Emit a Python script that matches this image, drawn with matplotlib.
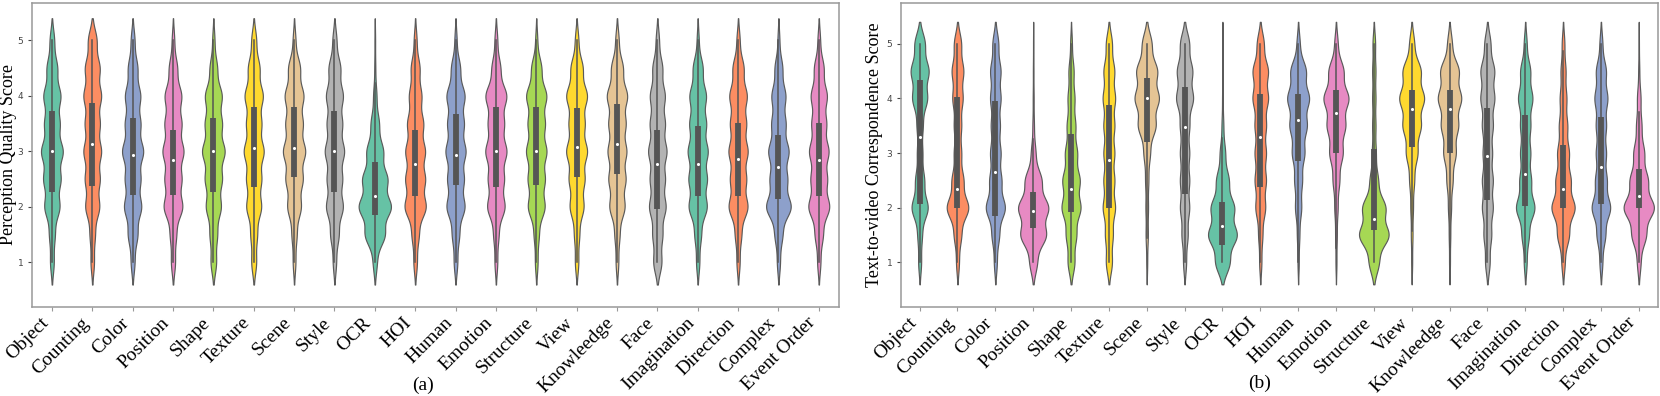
import numpy as np
import matplotlib
matplotlib.use("Agg")
from matplotlib import pyplot as plt

# categories shared by both panels
categories = ["Object", "Counting", "Color", "Position", "Shape", "Texture", "Scene",
              "Style", "OCR", "HOI", "Human", "Emotion", "Structure", "View",
              "Knowleedge", "Face", "Imagination", "Direction", "Complex", "Event Order"]

# score levels and relative share of ratings at each level
levels = [1.0, 1.5, 2.0, 2.5, 3.0, 3.5, 4.0, 4.5, 5.0]

perc_counts = [
    [10, 15, 40, 45, 57, 40, 45, 28, 12],
    [10, 15, 40, 42, 50, 42, 50, 42, 25],
    [10, 25, 45, 40, 55, 40, 40, 25, 10],
    [10, 15, 45, 40, 50, 40, 40, 20, 6],
    [15, 20, 40, 45, 60, 45, 45, 20, 6],
    [15, 20, 45, 45, 60, 45, 55, 35, 15],
    [8, 15, 40, 50, 65, 50, 55, 35, 8],
    [10, 25, 50, 45, 57, 45, 50, 35, 12],
    [12, 60, 97, 75, 50, 25, 10, 3, 2],
    [10, 20, 60, 55, 55, 45, 35, 25, 8],
    [10, 20, 50, 45, 55, 45, 50, 25, 6],
    [8, 15, 50, 45, 60, 45, 60, 25, 8],
    [8, 15, 50, 50, 60, 50, 60, 30, 6],
    [10, 15, 40, 45, 60, 45, 60, 35, 10],
    [8, 15, 45, 50, 55, 50, 60, 35, 10],
    [25, 30, 50, 45, 55, 45, 45, 30, 10],
    [10, 20, 55, 55, 60, 50, 50, 30, 6],
    [10, 20, 60, 50, 60, 50, 55, 35, 10],
    [10, 25, 80, 55, 65, 45, 45, 25, 6],
    [10, 25, 65, 50, 60, 45, 50, 30, 8],
]
perc_q1 = [2.27, 2.37, 2.22, 2.22, 2.27, 2.35, 2.53, 2.27, 1.85, 2.2,
           2.4, 2.35, 2.4, 2.53, 2.59, 1.97, 2.2, 2.2, 2.14, 2.2]
perc_med = [3.0, 3.14, 2.93, 2.85, 3.0, 3.07, 3.07, 3.0, 2.2, 2.78,
            2.93, 3.0, 3.0, 3.08, 3.14, 2.77, 2.78, 2.86, 2.71, 2.84]
perc_q3 = [3.73, 3.87, 3.6, 3.38, 3.6, 3.8, 3.8, 3.73, 2.8, 3.38,
           3.67, 3.8, 3.8, 3.79, 3.85, 3.38, 3.46, 3.51, 3.3, 3.51]

t2v_counts = [
    [10, 15, 55, 30, 18, 20, 50, 60, 35],
    [10, 25, 75, 40, 25, 25, 35, 40, 25],
    [10, 25, 65, 40, 35, 30, 35, 35, 20],
    [25, 85, 100, 55, 15, 5, 3, 2, 1],
    [20, 30, 55, 50, 35, 25, 20, 15, 5],
    [20, 25, 40, 35, 35, 35, 40, 35, 20],
    [3, 7, 8, 10, 20, 55, 75, 65, 30],
    [10, 20, 30, 30, 30, 30, 55, 50, 30],
    [40, 80, 65, 35, 15, 5, 2, 1, 1],
    [8, 15, 35, 40, 40, 40, 55, 55, 25],
    [4, 8, 20, 25, 40, 55, 70, 50, 10],
    [3, 5, 10, 20, 40, 55, 75, 45, 10],
    [30, 90, 70, 25, 12, 10, 10, 10, 8],
    [3, 5, 8, 15, 35, 55, 75, 55, 15],
    [3, 5, 10, 20, 40, 55, 75, 60, 15],
    [15, 25, 35, 35, 30, 35, 45, 45, 20],
    [10, 25, 65, 40, 35, 35, 50, 35, 10],
    [10, 35, 70, 45, 35, 25, 20, 15, 8],
    [10, 30, 65, 40, 35, 35, 45, 35, 10],
    [10, 40, 85, 50, 30, 15, 10, 3, 1],
]
t2v_q1 = [2.07, 2.0, 1.85, 1.63, 1.93, 1.99, 3.2, 2.25, 1.32, 2.38,
          2.85, 3.0, 1.6, 3.12, 3.0, 2.14, 2.03, 2.0, 2.06, 2.0]
t2v_med = [3.3, 2.35, 2.65, 1.94, 2.35, 2.87, 4.0, 3.48, 1.66, 3.3,
           3.6, 3.74, 1.8, 3.8, 3.81, 2.94, 2.61, 2.35, 2.75, 2.22]
t2v_q3 = [4.33, 4.02, 3.95, 2.28, 3.35, 3.88, 4.37, 4.21, 2.1, 4.08,
          4.08, 4.16, 3.08, 4.15, 4.15, 3.83, 3.69, 3.15, 3.66, 2.7]

set2 = ["#66c2a5", "#fc8d62", "#8da0cb", "#e78ac3",
        "#a6d854", "#ffd92f", "#e5c494", "#b3b3b3"]

BW = 0.2      # kde bandwidth
CUT = 2       # like seaborn: extend tails by CUT * BW
SERIF = "Liberation Serif"


def kde(counts):
    v = np.array(levels)
    w = np.array(counts, dtype=float)
    w = w / w.sum()
    y = np.linspace(v.min() - CUT * BW, v.max() + CUT * BW, 400)
    d = (w[None, :] * np.exp(-0.5 * ((y[:, None] - v[None, :]) / BW) ** 2)).sum(axis=1)
    d = d / (BW * np.sqrt(2 * np.pi))
    return y, d


def violin_panel(ax, counts, q1, med, q3, ylabel, ylim):
    dens = [kde(c) for c in counts]
    dmax = max(d.max() for _, d in dens)
    for i, (y, d) in enumerate(dens):
        hw = 0.4 * d / dmax
        ax.fill_betweenx(y, i - hw, i + hw, facecolor=set2[i % 8],
                         edgecolor="#5a5a5a", linewidth=0.85, zorder=2)
        iqr = q3[i] - q1[i]
        lo = max(min(levels), q1[i] - 1.5 * iqr)
        hi = min(max(levels), q3[i] + 1.5 * iqr)
        ax.plot([i, i], [lo, hi], color="#555555", lw=1.1, zorder=3)
        ax.plot([i, i], [q1[i], q3[i]], color="#555555", lw=4.2,
                solid_capstyle="butt", zorder=3)
        ax.scatter([i], [med[i]], s=5, color="white", zorder=4, linewidths=0)

    ax.set_xlim(-0.5, len(categories) - 0.5)
    ax.set_ylim(*ylim)
    ax.set_yticks([1, 2, 3, 4, 5])
    ax.set_xticks(range(len(categories)))
    ax.set_xticklabels(categories, rotation=45, ha="right",
                       fontsize=14, family=SERIF)
    ax.tick_params(axis="y", labelsize=6.5, colors="#444444", length=3, width=0.8, pad=3)
    ax.tick_params(axis="x", colors="#999999", length=3, width=0.8, pad=2,
                   labelcolor="black")
    ax.set_ylabel(ylabel, fontsize=13, family=SERIF)
    for s in ax.spines.values():
        s.set_color("#999999")
        s.set_linewidth(1.1)


fig = plt.figure(figsize=(16.6, 3.96), dpi=100)
ax1 = fig.add_axes([0.0191, 0.224, 0.4863, 0.7692])
ax2 = fig.add_axes([0.5426, 0.224, 0.4560, 0.7692])

violin_panel(ax1, perc_counts, perc_q1, perc_med, perc_q3,
             "Perception Quality Score", (0.19, 5.68))
violin_panel(ax2, t2v_counts, t2v_q1, t2v_med, t2v_q3,
             "Text-to-video Correspondence Score", (0.18, 5.75))
ax1.yaxis.set_label_coords(-0.0185, 0.5)
ax2.yaxis.set_label_coords(-0.023, 0.5)

fig.text(423 / 1660, 1 - 385 / 396, "(a)", ha="center", va="center",
         fontsize=14, family=SERIF)
fig.text(1260 / 1660, 1 - 383 / 396, "(b)", ha="center", va="center",
         fontsize=14, family=SERIF)

fig.savefig("out.png", dpi=100)
plt.close()
